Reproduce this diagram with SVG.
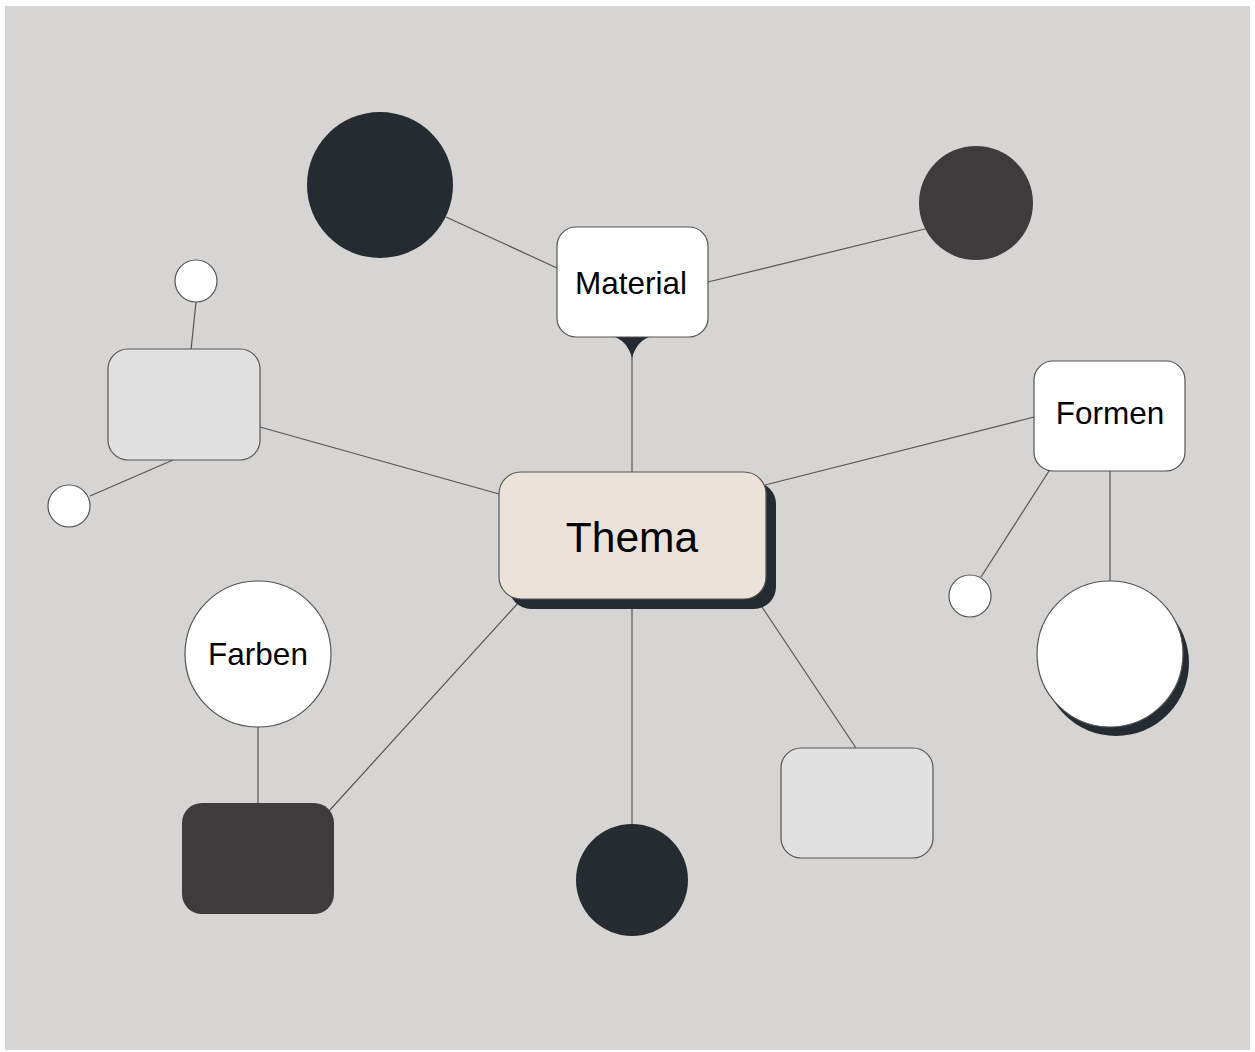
<svg xmlns="http://www.w3.org/2000/svg" width="1255" height="1052" viewBox="0 0 1255 1052">
<style>
.edge{stroke:#555;stroke-width:1.2;fill:none}
.node{stroke:#555;stroke-width:1.2}
.white{fill:#ffffff}
.light{fill:#e1e1e1}
.dark{fill:#262a31}
.dark2{fill:#3d3b3c}
.lbl{font-family:"Liberation Sans",Arial,sans-serif;fill:#000;text-anchor:middle;dominant-baseline:central}
</style>
<rect x="0" y="0" width="1255" height="1052" fill="#ffffff"/>
<rect x="5" y="6" width="1245" height="1044" fill="#d6d5d3"/>
<g id="connectors">
<line class="edge" x1="446" y1="217" x2="557" y2="268"/>
<line class="edge" x1="708" y1="282" x2="925" y2="229"/>
<line class="edge" x1="632" y1="337" x2="632" y2="472"/>
<path d="M612,336 Q627,340 632,358 Q637,340 652,336 Z" fill="#262a31"/>
<line class="edge" x1="196" y1="302" x2="191" y2="350"/>
<line class="edge" x1="173" y1="460" x2="90" y2="496"/>
<line class="edge" x1="260" y1="427" x2="499" y2="494"/>
<line class="edge" x1="765" y1="485" x2="1034" y2="417"/>
<line class="edge" x1="1049" y1="471" x2="981" y2="577"/>
<line class="edge" x1="1110" y1="471" x2="1110" y2="581"/>
<line class="edge" x1="258" y1="727" x2="258" y2="803"/>
<line class="edge" x1="519" y1="602" x2="329" y2="811"/>
<line class="edge" x1="632" y1="609" x2="632" y2="824"/>
<line class="edge" x1="762" y1="607" x2="856" y2="748"/>
</g>
<g id="n-circle-big-dark"><circle class="dark" cx="380" cy="185" r="73"/></g>
<g id="n-circle-right-dark"><circle class="dark2" cx="976" cy="203" r="57"/></g>
<g id="n-material"><rect class="node white" x="557" y="227" width="151" height="110" rx="19"/><text class="lbl" x="631" y="283" font-size="31.5">Material</text></g>
<g id="n-small-top"><circle class="node white" cx="196" cy="281" r="21"/></g>
<g id="n-rect-left"><rect class="node light" x="108" y="349" width="152" height="111" rx="20"/></g>
<g id="n-small-left"><circle class="node white" cx="69" cy="506" r="21"/></g>
<g id="n-thema"><rect class="dark" x="509" y="482" width="267" height="127" rx="22"/><rect class="node" fill="#ebe3da" x="499" y="472" width="267" height="127" rx="22"/><text class="lbl" x="632" y="537" font-size="42.5">Thema</text></g>
<g id="n-formen"><rect class="node white" x="1034" y="361" width="151" height="110" rx="19"/><text class="lbl" x="1110" y="413" font-size="31.5">Formen</text></g>
<g id="n-small-right"><circle class="node white" cx="970" cy="596" r="21"/></g>
<g id="n-circle-big-white"><circle class="dark" cx="1116" cy="663" r="73"/><circle class="node white" cx="1110" cy="654" r="73"/></g>
<g id="n-farben"><circle class="node white" cx="258" cy="654" r="73"/><text class="lbl" x="258" y="654" font-size="31.5">Farben</text></g>
<g id="n-rect-dark"><rect class="dark2" x="182" y="803" width="152" height="111" rx="20"/></g>
<g id="n-circle-bottom"><circle class="dark" cx="632" cy="880" r="56"/></g>
<g id="n-rect-light-bottom"><rect class="node light" x="781" y="748" width="152" height="110" rx="20"/></g>
</svg>
